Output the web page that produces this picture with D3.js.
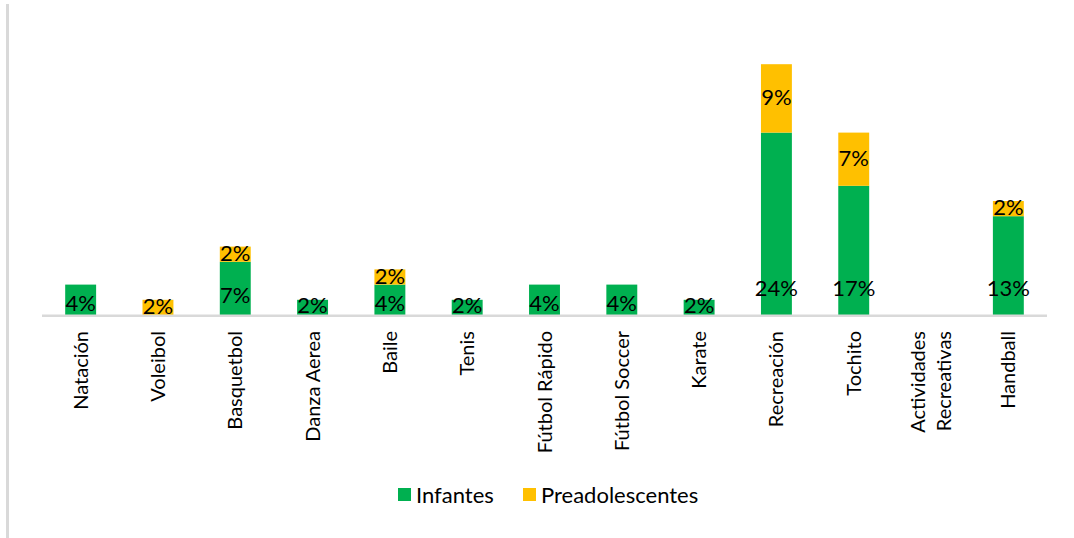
<!DOCTYPE html>
<html>
<head>
<meta charset="utf-8">
<script src="https://cdn.jsdelivr.net/npm/d3@7"></script>
<style>
  html, body { margin: 0; padding: 0; background: #ffffff; }
  svg { display: block; }
  text { font-family: Lato, "Open Sans", sans-serif; fill: #000000; }
</style>
</head>
<body>
<svg id="chart" width="1074" height="538"></svg>
<script>
// Deportes practicados por grupo de edad (porcentaje)
const categories = [
  "Natación", "Voleibol", "Basquetbol", "Danza Aerea", "Baile", "Tenis",
  "Fútbol Rápido", "Fútbol Soccer", "Karate", "Recreación", "Tochito",
  "Actividades Recreativas", "Handball"
];
const infantes        = [4, 0, 7, 2, 4, 2, 4, 4, 2, 24, 17, 0, 13];
const preadolescentes = [0, 2, 2, 0, 2, 0, 0, 0, 0, 9, 7, 0, 2];
const seriesNames  = ["Infantes", "Preadolescentes"];
const seriesColors = ["#00B050", "#FFC000"];

const svg = d3.select("#chart");

const rows = categories.map((c, i) => ({
  cat: c, Infantes: infantes[i], Preadolescentes: preadolescentes[i]
}));
const stacked = d3.stack().keys(seriesNames)(rows);

const x = d3.scaleBand().domain(categories).range([42, 1047]).paddingInner(0.6).paddingOuter(0.3);
const y = d3.scaleLinear().domain([0, 35]).range([315, 49]);
const color = d3.scaleOrdinal().domain(seriesNames).range(seriesColors);

// chart frame edge on the left
svg.append("line")
  .attr("x1", 7.5).attr("x2", 7.5).attr("y1", 4).attr("y2", 538)
  .attr("stroke", "#d9d9d9").attr("stroke-width", 3);

// stacked columns
const layers = svg.append("g").selectAll("g").data(stacked).join("g")
  .attr("fill", d => color(d.key));
layers.selectAll("rect").data(d => d.filter(s => s[1] - s[0] > 0)).join("rect")
  .attr("x", d => x(d.data.cat))
  .attr("width", x.bandwidth())
  .attr("y", d => y(d[1]))
  .attr("height", d => y(d[0]) - y(d[1]));

// category axis
const xAxis = svg.append("g")
  .attr("transform", `translate(0,${y(0)})`)
  .call(d3.axisBottom(x).tickSize(0).tickFormat(""));
xAxis.select(".domain").remove();
svg.append("line")
  .attr("x1", 42).attr("x2", 1047).attr("y1", 315.8).attr("y2", 315.8)
  .attr("stroke", "#d9d9d9").attr("stroke-width", 2.5);

// rotated category labels (long names wrap onto two lines)
const wrapLines = name => name === "Actividades Recreativas" ? ["Actividades", "Recreativas"] : [name];
const catLabels = svg.append("g").selectAll("text").data(categories).join("text")
  .attr("transform", d => `translate(${x(d) + x.bandwidth() / 2},331) rotate(-90)`)
  .attr("text-anchor", "end")
  .style("font-size", "20px");
catLabels.each(function(d) {
  const lines = wrapLines(d);
  const t = d3.select(this);
  const lh = 26;
  lines.forEach((ln, k) => {
    t.append("tspan")
      .attr("x", 0)
      .attr("y", (k - (lines.length - 1) / 2) * lh)
      .attr("dy", "0.35em")
      .text(ln);
  });
});

// data labels
const fmt = v => v + "%";
const base = y(0);
// Infantes: inside base
svg.append("g").selectAll("text").data(stacked[0].filter(s => s[1] - s[0] > 0)).join("text")
  .attr("x", d => x(d.data.cat) + x.bandwidth() / 2)
  .attr("y", d => {
    const h = y(d[0]) - y(d[1]);
    return base - Math.min(27, Math.max(10, h * 0.37));
  })
  .attr("dy", "0.35em")
  .attr("text-anchor", "middle")
  .style("font-size", "22px")
  .text(d => fmt(d[1] - d[0]));
// Preadolescentes: centered in segment
svg.append("g").selectAll("text").data(stacked[1].filter(s => s[1] - s[0] > 0)).join("text")
  .attr("x", d => x(d.data.cat) + x.bandwidth() / 2)
  .attr("y", d => (y(d[0]) + y(d[1])) / 2 - 1)
  .attr("dy", "0.35em")
  .attr("text-anchor", "middle")
  .style("font-size", "22px")
  .text(d => fmt(d[1] - d[0]));

// legend
const legendX = [398, 523];
const legend = svg.append("g").selectAll("g").data(seriesNames).join("g")
  .attr("transform", (d, i) => `translate(${legendX[i]},488)`);
legend.append("rect").attr("width", 13).attr("height", 13).attr("fill", d => color(d));
legend.append("text")
  .attr("x", 18).attr("y", 7).attr("dy", "0.35em")
  .style("font-size", "22px")
  .text(d => d);
</script>
</body>
</html>
